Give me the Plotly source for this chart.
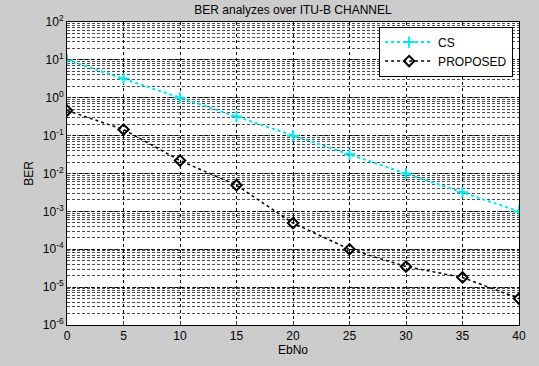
import plotly.graph_objects as go

ebno = [0, 5, 10, 15, 20, 25, 30, 35, 40]
ber_cs = [10, 3.2, 1.0, 0.32, 0.1, 0.032, 0.01, 0.0032, 0.001]
ber_proposed = [0.46, 0.145, 0.022, 0.0049, 0.00049, 0.0001, 3.5e-5, 1.8e-5, 5e-6]
y_exponents = [-6, -5, -4, -3, -2, -1, 0, 1, 2]
y_tickvals = [10.0 ** e for e in y_exponents]
y_ticktext = ["10<sup>%d</sup>" % e for e in y_exponents]

fig = go.Figure()
fig.add_trace(go.Scatter(
    x=ebno, y=ber_cs, name="CS", mode="lines+markers",
    line=dict(color="#00e5ee", dash="dot", width=2),
    marker=dict(symbol="cross-thin", size=8, line=dict(color="#00e5ee", width=2)),
))
fig.add_trace(go.Scatter(
    x=ebno, y=ber_proposed, name="PROPOSED", mode="lines+markers",
    line=dict(color="black", dash="dot", width=1.5),
    marker=dict(symbol="diamond-open", size=8, color="black", line=dict(color="black", width=2)),
))

fig.update_layout(
    width=539, height=366,
    margin=dict(l=67, r=20, t=22, b=39),
    paper_bgcolor="#cccccc", plot_bgcolor="white",
    font=dict(family="Arial, Liberation Sans, sans-serif", size=12, color="black"),
    title=dict(text="BER analyzes over ITU-B CHANNEL", x=0.5, xanchor="center",
               xref="paper", y=0.985, yanchor="top", font=dict(size=12)),
    showlegend=True,
    legend=dict(x=0.987, y=0.985, xanchor="right", yanchor="top",
                bgcolor="white", bordercolor="black", borderwidth=1,
                font=dict(size=12), tracegroupgap=0, itemwidth=48),
)
fig.update_xaxes(
    range=[0, 40], tickvals=ebno,
    showgrid=True, gridcolor="black", griddash="3px,3px", gridwidth=1,
    showline=True, linecolor="black", mirror=True, ticks="inside", ticklen=4,
    zeroline=False,
    title=dict(text="EbNo", standoff=2, font=dict(size=12)),
)
fig.update_yaxes(
    type="log", range=[-6, 2], tickvals=y_tickvals, ticktext=y_ticktext,
    showgrid=True, gridcolor="black", griddash="3px,3px", gridwidth=1,
    minor=dict(showgrid=True, gridcolor="rgba(0,0,0,0.7)", griddash="3px,2px",
               gridwidth=1, dtick="D1"),
    showline=True, linecolor="black", mirror=True, ticks="inside", ticklen=4,
    zeroline=False,
    title=dict(text="BER", standoff=6, font=dict(size=12)),
)

fig.write_html("out.html")
